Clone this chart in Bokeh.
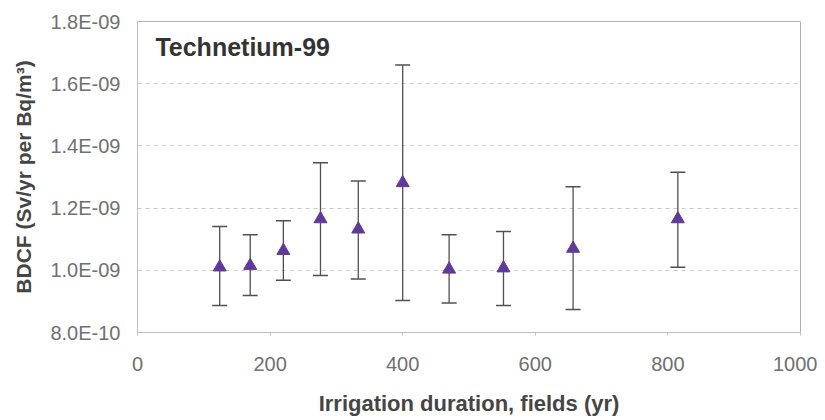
from bokeh.plotting import figure
from bokeh.models import (Range1d, FixedTicker, CustomJSTickFormatter, Whisker, TeeHead,
                          ColumnDataSource, Label)
from bokeh.embed import file_html
from bokeh.resources import INLINE

# Data
duration = [124, 170, 220, 276, 333, 400, 470, 552, 657, 815]
bdcf = [1.010e-9, 1.015e-9, 1.063e-9, 1.165e-9, 1.132e-9, 1.281e-9, 1.003e-9, 1.007e-9, 1.070e-9, 1.165e-9]
upper = [1.141e-9, 1.114e-9, 1.159e-9, 1.346e-9, 1.287e-9, 1.660e-9, 1.114e-9, 1.125e-9, 1.269e-9, 1.315e-9]
lower = [0.887e-9, 0.919e-9, 0.968e-9, 0.983e-9, 0.972e-9, 0.903e-9, 0.895e-9, 0.887e-9, 0.874e-9, 1.010e-9]

x_ticks = [0, 200, 400, 600, 800, 1000]
y_ticks = [8.0e-10, 1.0e-9, 1.2e-9, 1.4e-9, 1.6e-9, 1.8e-9]

FONT = "Liberation Sans"

src = ColumnDataSource(dict(x=duration, y=bdcf, up=upper, lo=lower))

p = figure(width=817, height=418, output_backend="svg", toolbar_location=None,
           x_range=Range1d(0, 1000), y_range=Range1d(8.0e-10, 1.8e-9),
           min_border_left=137, min_border_right=17, min_border_top=21, min_border_bottom=84)
p.background_fill_color = "white"
p.border_fill_color = "white"
p.outline_line_color = "#b0b0b0"
p.outline_line_width = 1

# grid
p.xgrid.grid_line_color = None
p.ygrid.grid_line_color = "#c8c8c8"
p.ygrid.grid_line_dash = "4 4"
p.ygrid.grid_line_width = 1

# x axis
p.xaxis.ticker = FixedTicker(ticks=x_ticks)
p.xaxis.axis_line_color = "#c0c0c0"
p.xaxis.major_tick_line_color = "#c0c0c0"
p.xaxis.major_tick_out = 3
p.xaxis.major_tick_in = 0
p.xaxis.minor_tick_line_color = None
p.xaxis.major_label_text_font = FONT
p.xaxis.major_label_text_font_size = "20px"
p.xaxis.major_label_text_color = "#707070"
p.xaxis.major_label_standoff = 21
p.xaxis.axis_label = "Irrigation duration, fields (yr)"
p.xaxis.axis_label_text_font = FONT
p.xaxis.axis_label_text_font_size = "22px"
p.xaxis.axis_label_text_font_style = "bold"
p.xaxis.axis_label_text_color = "#454545"
p.xaxis.axis_label_standoff = 17

# y axis
p.yaxis.ticker = FixedTicker(ticks=y_ticks)
p.yaxis.formatter = CustomJSTickFormatter(code="""
    const s = tick.toExponential(1);
    const parts = s.split('e');
    const n = parseInt(parts[1]);
    const a = Math.abs(n);
    return parts[0] + 'E' + (n < 0 ? '-' : '+') + (a < 10 ? '0' + a : '' + a);
""")
p.yaxis.axis_line_color = "#c0c0c0"
p.yaxis.major_tick_line_color = None
p.yaxis.major_tick_out = 0
p.yaxis.major_tick_in = 0
p.yaxis.minor_tick_line_color = None
p.yaxis.major_label_text_font = FONT
p.yaxis.major_label_text_font_size = "20px"
p.yaxis.major_label_text_color = "#707070"
p.yaxis.major_label_standoff = 17
p.yaxis.axis_label = "BDCF (Sv/yr per Bq/m³)"
p.yaxis.axis_label_text_font = FONT
p.yaxis.axis_label_text_font_size = "21px"
p.yaxis.axis_label_text_font_style = "bold"
p.yaxis.axis_label_text_color = "#454545"
p.yaxis.axis_label_standoff = 12

# error bars
w = Whisker(source=src, base="x", upper="up", lower="lo",
            line_color="#505050", line_width=1.3,
            upper_head=TeeHead(size=15, line_color="#505050", line_width=1.5),
            lower_head=TeeHead(size=15, line_color="#505050", line_width=1.5))
p.add_layout(w)

p.scatter("x", "y", source=src, marker="triangle", size=13,
          fill_color="#5f3a9a", line_color="#5f3a9a")

lab = Label(x=27, y=1.717e-9, text="Technetium-99", text_font=FONT,
            text_font_size="25px", text_font_style="bold", text_color="#333333",
            text_baseline="middle", text_align="left")
p.add_layout(lab)

open("out.html", "w").write(file_html(p, INLINE))
